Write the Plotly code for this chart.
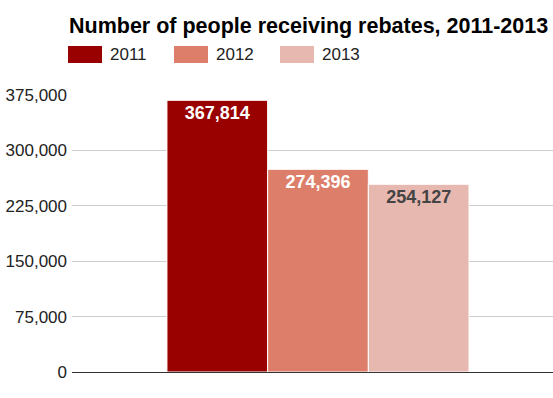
import plotly.graph_objects as go

categories = [""]
years = ["2011", "2012", "2013"]
values = [367814, 274396, 254127]
colors = ["#990000", "#DD7E6B", "#E6B8AF"]
label_colors = ["#FFFFFF", "#FFFFFF", "#444444"]
y_ticks = [0, 75000, 150000, 225000, 300000, 375000]

FONT = "Liberation Sans, Arial"
W, H = 553, 398
PL, PR, PT, PB = 72, 553, 95, 372  # plot area pixel box

fig = go.Figure()
for yr, v, c, lc in zip(years, values, colors, label_colors):
    fig.add_trace(go.Bar(
        x=categories, y=[v], name=yr,
        marker=dict(color=c, line=dict(color="white", width=1)),
        text=[f"{v:,}"], textposition="inside", insidetextanchor="end",
        textfont=dict(family=FONT, size=18, color=lc, weight="bold"),
        textangle=0, showlegend=False,
    ))

# legend keys drawn manually to match large swatches
leg_x = [68, 174, 280]
pw, ph = PR - PL, PB - PT
for i, (yr, c) in enumerate(zip(years, colors)):
    fig.add_shape(type="rect", xref="paper", yref="paper",
                  x0=(leg_x[i] - PL) / pw, x1=(leg_x[i] + 34 - PL) / pw,
                  y0=(PB - 63) / ph, y1=(PB - 46) / ph,
                  fillcolor=c, line=dict(width=0))
    fig.add_annotation(xref="paper", yref="paper",
                       x=(leg_x[i] + 40 - PL) / pw, y=(PB - 54.5) / ph,
                       text=yr, showarrow=False, xanchor="left", yanchor="middle",
                       font=dict(family=FONT, size=17, color="#222222"))

fig.update_layout(
    width=W, height=H,
    margin=dict(l=PL, r=W - PR, t=PT, b=H - PB, autoexpand=False),
    paper_bgcolor="white", plot_bgcolor="white",
    barmode="group", bargap=0.372, bargroupgap=0,
    title=dict(text="<b>Number of people receiving rebates, 2011-2013</b>",
               x=69 / W, xanchor="left", y=1 - 25 / H, yanchor="middle",
               font=dict(family=FONT, size=21.5, color="#000000")),
    font=dict(family=FONT, color="#222222"),
    xaxis=dict(range=[-0.5114, 0.4886], showticklabels=False, showgrid=False,
               zeroline=False, showline=False, fixedrange=True),
    yaxis=dict(range=[0, 375000], tickvals=y_ticks,
               ticktext=[f"{t:,}" for t in y_ticks],
               tickfont=dict(family=FONT, size=17, color="#222222"),
               showgrid=True, gridcolor="#CCCCCC", gridwidth=1,
               zeroline=True, zerolinecolor="#333333", zerolinewidth=1,
               ticks="", ticklabelstandoff=4, automargin=False),
)

fig.write_html("out.html",
               config={"displayModeBar": False},
               post_script="document.body.style.margin='0';document.body.style.overflow='hidden';")
